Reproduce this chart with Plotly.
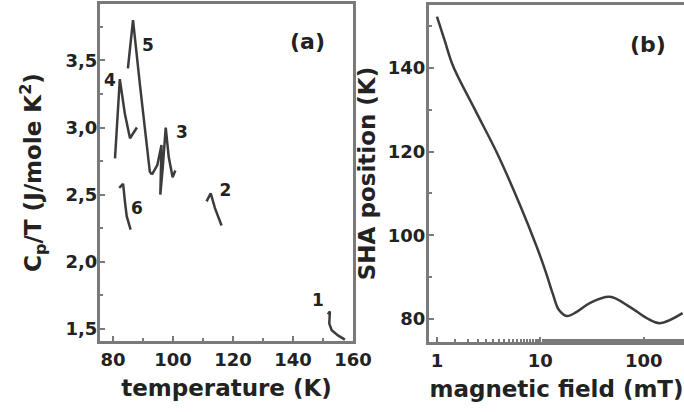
import plotly.graph_objects as go

# ---- panel (a) data: Cp/T vs temperature, six measurement windows ----
c1_T = [151.6, 152.3, 152.1, 152.9, 155.1, 157.3]
c1_C = [1.61, 1.63, 1.54, 1.49, 1.45, 1.42]
c2_T = [111.2, 112.6, 114.0, 116.2]
c2_C = [2.45, 2.51, 2.40, 2.27]
c3_T = [93.0, 94.8, 96.2, 95.8, 96.6, 97.6, 98.6, 99.9, 100.8]
c3_C = [2.65, 2.72, 2.87, 2.50, 2.70, 3.00, 2.78, 2.63, 2.68]
c4_T = [80.7, 82.3, 84.0, 85.7, 88.0]
c4_C = [2.77, 3.36, 3.10, 2.92, 3.00]
c5_T = [85.0, 86.7, 89.0, 91.3, 92.3, 93.0]
c5_C = [3.44, 3.80, 3.32, 2.87, 2.67, 2.65]
c6_T = [82.1, 83.4, 84.0, 84.6, 85.9]
c6_C = [2.55, 2.58, 2.45, 2.34, 2.24]
curve_labels = ["1", "2", "3", "4", "5", "6"]
label_T = [148.3, 117.5, 103.0, 79.0, 91.7, 88.0]
label_C = [1.70, 2.52, 2.95, 3.34, 3.60, 2.39]

a_ytickvals = [1.5, 2.0, 2.5, 3.0, 3.5]
a_yticktext = ["1,5", "2,0", "2,5", "3,0", "3,5"]
a_xtickvals = [80, 100, 120, 140, 160]

# ---- panel (b) data: SHA position vs magnetic field ----
field_mT = [1.0, 1.195, 1.428, 2.33, 3.80, 6.34, 9.25, 11.3, 13.21, 15.1, 18.03, 22.5, 30.1, 46.9, 73.2, 107, 143, 238]
sha_K = [152.2, 146.3, 140.5, 130.0, 119.7, 107.3, 97.2, 91.2, 86.0, 82.2, 80.7, 81.7, 83.8, 85.3, 82.9, 80.2, 79.0, 81.4]
b_ytickvals = [80, 100, 120, 140]
b_xtickvals = [1, 10, 100]

W, H = 684, 412
line_col = "#3c3c3c"
axis_col = "#7a7a7a"
txt_col = "#222222"
FONT = "DejaVu Sans, sans-serif"

fig = go.Figure()
for T, C in [(c1_T, c1_C), (c2_T, c2_C), (c3_T, c3_C), (c4_T, c4_C), (c5_T, c5_C), (c6_T, c6_C)]:
    fig.add_trace(go.Scatter(x=T, y=C, mode="lines", line=dict(color=line_col, width=2.5),
                             xaxis="x", yaxis="y", showlegend=False))
fig.add_trace(go.Scatter(x=label_T, y=label_C, mode="text", text=curve_labels,
                         textfont=dict(family=FONT, size=17, color=txt_col, weight="bold"),
                         xaxis="x", yaxis="y", showlegend=False))
fig.add_trace(go.Scatter(x=field_mT, y=sha_K, mode="lines",
                         line=dict(color=line_col, width=2.5, shape="spline", smoothing=1.0),
                         xaxis="x2", yaxis="y2", showlegend=False))

def px_dom_x(a, b):
    return [a / W, b / W]

def px_dom_y(top, bottom):
    return [(H - bottom) / H, (H - top) / H]

tickfont = dict(family=FONT, size=18, color=txt_col, weight="bold")
titlefont = dict(family=FONT, size=23, color=txt_col, weight="bold")
common = dict(showgrid=False, zeroline=False, showline=True, linecolor=axis_col, linewidth=3,
              ticks="inside", ticklen=5, tickwidth=2, tickcolor=axis_col, automargin=False,
              tickfont=tickfont)

fig.update_layout(
    width=W, height=H, margin=dict(l=0, r=0, t=0, b=0),
    paper_bgcolor="white", plot_bgcolor="white",
    xaxis=dict(domain=px_dom_x(100, 353), range=[75.7, 160], anchor="y", mirror=True,
               tickvals=a_xtickvals, ticktext=["<b>%d</b>" % v for v in a_xtickvals],
               minor=dict(ticks="inside", ticklen=3, dtick=10, tickcolor=axis_col),
               title=dict(text="<b>temperature (K)</b>", font=titlefont, standoff=12), **common),
    yaxis=dict(domain=px_dom_y(4, 341), range=[1.41, 3.92], anchor="x", mirror=True,
               tickvals=a_ytickvals, ticktext=["<b>%s</b>" % t for t in a_yticktext],
               ticklabelstandoff=-4,
               minor=dict(ticks="inside", ticklen=3, dtick=0.25, tickcolor=axis_col),
               title=dict(text="<b>C<sub>p</sub>/T (J/mole K<sup>2</sup>)</b>", font=titlefont, standoff=18),
               **common),
    xaxis2=dict(domain=px_dom_x(429, 684), type="log", range=[-0.077, 2.39], anchor="y2", mirror=True,
                tickvals=b_xtickvals, ticktext=["<b>%d</b>" % v for v in b_xtickvals],
                minor=dict(ticks="inside", ticklen=3, tickcolor=axis_col),
                title=dict(text="<b>magnetic field (mT)</b>", font=titlefont, standoff=12), **common),
    yaxis2=dict(domain=px_dom_y(5, 342), range=[74.5, 155], anchor="x2", mirror=False,
                tickvals=b_ytickvals, ticktext=["<b>%d</b>" % v for v in b_ytickvals],
                ticklabelstandoff=-3,
                minor=dict(ticks="inside", ticklen=3, dtick=10, tickcolor=axis_col),
                title=dict(text="<b>SHA position (K)</b>", font=titlefont, standoff=6), **common),
    annotations=[
        dict(text="<b>(a)</b>", x=307 / W, y=(H - 42) / H, xref="paper", yref="paper", showarrow=False,
             xanchor="center", yanchor="middle", font=dict(family=FONT, size=22, color=txt_col)),
        dict(text="<b>(b)</b>", x=648 / W, y=(H - 45) / H, xref="paper", yref="paper", showarrow=False,
             xanchor="center", yanchor="middle", font=dict(family=FONT, size=22, color=txt_col)),
    ],
)

fig.write_html("out.html", config={"displayModeBar": False},
               post_script="document.body.style.margin='0px';")
